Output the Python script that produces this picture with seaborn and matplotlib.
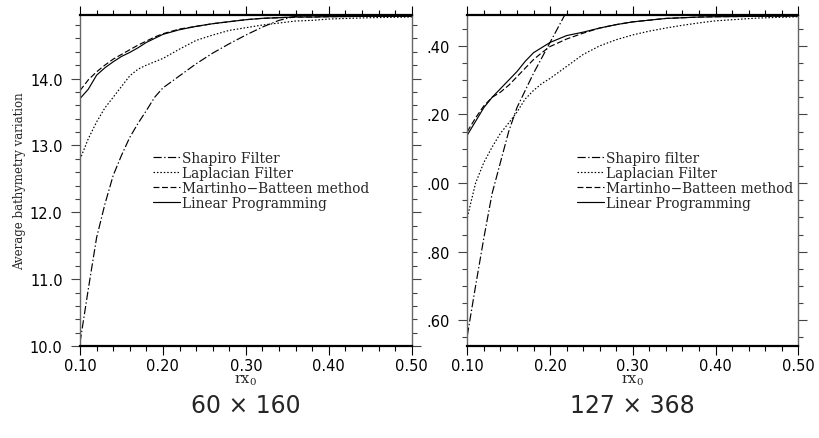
import numpy as np
import pandas as pd
import matplotlib
matplotlib.use("Agg")
import matplotlib.pyplot as plt
from matplotlib.ticker import MultipleLocator, FuncFormatter
import seaborn as sns

# rx0 values used for every run
rx0 = [0.10, 0.11, 0.12, 0.13, 0.14, 0.15, 0.16, 0.17, 0.18, 0.19, 0.20, 0.22,
       0.24, 0.26, 0.28, 0.30, 0.32, 0.34, 0.36, 0.38, 0.40, 0.45, 0.50]

# grid 60 x 160
shapiro_60 = [10.05, 10.85, 11.62, 12.12, 12.55, 12.85, 13.12, 13.33, 13.52, 13.72, 13.86, 14.04,
              14.22, 14.38, 14.52, 14.65, 14.77, 14.87, 14.93, 14.94, 14.94, 14.94, 14.94]
laplace_60 = [12.79, 13.10, 13.35, 13.56, 13.72, 13.88, 14.04, 14.14, 14.20, 14.25, 14.30, 14.44,
              14.57, 14.65, 14.72, 14.76, 14.80, 14.83, 14.86, 14.87, 14.89, 14.91, 14.92]
mb_60 = [13.82, 13.98, 14.10, 14.20, 14.29, 14.36, 14.43, 14.50, 14.56, 14.62, 14.67, 14.74,
         14.78, 14.82, 14.85, 14.88, 14.90, 14.91, 14.92, 14.92, 14.925, 14.93, 14.93]
lp_60 = [13.70, 13.84, 14.05, 14.16, 14.25, 14.33, 14.39, 14.46, 14.54, 14.60, 14.66, 14.73,
         14.78, 14.82, 14.85, 14.88, 14.90, 14.91, 14.92, 14.92, 14.925, 14.93, 14.93]

# grid 127 x 368 (shapiro leaves the frame after 0.22)
rx0_short = rx0[:13]
shapiro_127 = [13.555, 13.70, 13.84, 13.97, 14.06, 14.15, 14.22, 14.27, 14.32, 14.365, 14.41, 14.50, 14.58]
laplace_127 = [13.90, 14.00, 14.06, 14.105, 14.145, 14.175, 14.207, 14.245, 14.27, 14.29, 14.305, 14.34,
               14.375, 14.40, 14.418, 14.432, 14.443, 14.452, 14.46, 14.467, 14.473, 14.481, 14.485]
mb_127 = [14.15, 14.19, 14.225, 14.25, 14.265, 14.285, 14.31, 14.335, 14.36, 14.38, 14.398, 14.42,
          14.437, 14.452, 14.462, 14.47, 14.475, 14.48, 14.482, 14.484, 14.485, 14.486, 14.487]
lp_127 = [14.14, 14.18, 14.22, 14.25, 14.275, 14.30, 14.325, 14.355, 14.38, 14.395, 14.41, 14.43,
          14.44, 14.452, 14.462, 14.47, 14.475, 14.48, 14.482, 14.484, 14.485, 14.486, 14.487]

titles = ["60 \u00d7 160", "127 \u00d7 368"]


def to_long(series):
    rows = []
    for name, (xs, ys) in series.items():
        for x, y in zip(xs, ys):
            rows.append({"rx0": x, "value": y, "method": name})
    return pd.DataFrame(rows)


sns.set_style("ticks")
plt.rcParams["font.family"] = ["DejaVu Sans"]
plt.rcParams["mathtext.fontset"] = "dejavuserif"

fig = plt.figure(figsize=(8.19, 4.39), dpi=100)
ax1 = fig.add_axes([80 / 819, 92 / 439, 331.7 / 819, 331 / 439])
ax2 = fig.add_axes([467.3 / 819, 92 / 439, 331 / 819, 331 / 439])

panels = [
    (ax1, {"Shapiro Filter": (rx0, shapiro_60),
           "Laplacian Filter": (rx0, laplace_60),
           "Martinho\u2212Batteen method": (rx0, mb_60),
           "Linear Programming": (rx0, lp_60)}),
    (ax2, {"Shapiro filter": (rx0_short, shapiro_127),
           "Laplacian Filter": (rx0, laplace_127),
           "Martinho\u2212Batteen method": (rx0, mb_127),
           "Linear Programming": (rx0, lp_127)}),
]

styles = [(7, 2, 1.2, 2), (1.3, 1.6), (5, 2.2), ""]

for i, (ax, series) in enumerate(panels):
    df = to_long(series)
    names = list(series.keys())
    sns.lineplot(data=df, x="rx0", y="value", hue="method", style="method",
                 hue_order=names, style_order=names,
                 palette=["black"] * 4, dashes=dict(zip(names, styles)),
                 linewidth=0.85, ax=ax, sort=False)
    ax.set_xlim(0.10, 0.50)
    ax.xaxis.set_major_locator(MultipleLocator(0.1))
    ax.xaxis.set_minor_locator(MultipleLocator(0.02))
    ax.xaxis.set_major_formatter(FuncFormatter(lambda v, p: f"{v:.2f}"))
    ax.set_xlabel("rx$_0$", fontsize=10.5, family="DejaVu Serif", labelpad=0)
    ax.tick_params(which="both", direction="out", top=True, right=True,
                   labeltop=False, labelright=False, labelsize=10.5, colors="black")
    ax.tick_params(which="major", length=6.5, width=0.8, pad=2)
    ax.tick_params(which="minor", length=3.8, width=0.8)
    ax.tick_params(axis="y", which="major", pad=6)
    ax.tick_params(axis="y", which="both", color="#444444")
    for s in ["top", "bottom"]:
        ax.spines[s].set_linewidth(1.6)
        ax.spines[s].set_color("black")
    for s in ["left", "right"]:
        ax.spines[s].set_linewidth(1.0)
        ax.spines[s].set_color("#666666")
    leg_x = 0.22 if i == 0 else 0.331
    ax.legend(loc="upper left", bbox_to_anchor=(leg_x, 0.59), frameon=False,
              prop={"family": "DejaVu Serif", "size": 9.9}, handlelength=2.0,
              handletextpad=0.12, labelspacing=0.08, borderpad=0, borderaxespad=0)
    ax.text(0.5, -0.178, titles[i], transform=ax.transAxes, ha="center", va="center",
            fontsize=17)

ax1.set_ylim(10.0, 14.95)
ax1.yaxis.set_major_locator(MultipleLocator(1.0))
ax1.yaxis.set_minor_locator(MultipleLocator(0.2))
ax1.yaxis.set_major_formatter(FuncFormatter(lambda v, p: f"{v:.1f}"))
ax1.set_ylabel("Average bathymetry variation", fontsize=8.5, family="DejaVu Serif", labelpad=3)

ax2.set_ylim(13.525, 14.49)
ax2.yaxis.set_major_locator(MultipleLocator(0.2))
ax2.yaxis.set_minor_locator(MultipleLocator(0.05))
ax2.yaxis.set_major_formatter(FuncFormatter(lambda v, p: f"{v:.2f}"[-3:]))
ax2.set_ylabel("")

fig.savefig("out.png", dpi=100)
